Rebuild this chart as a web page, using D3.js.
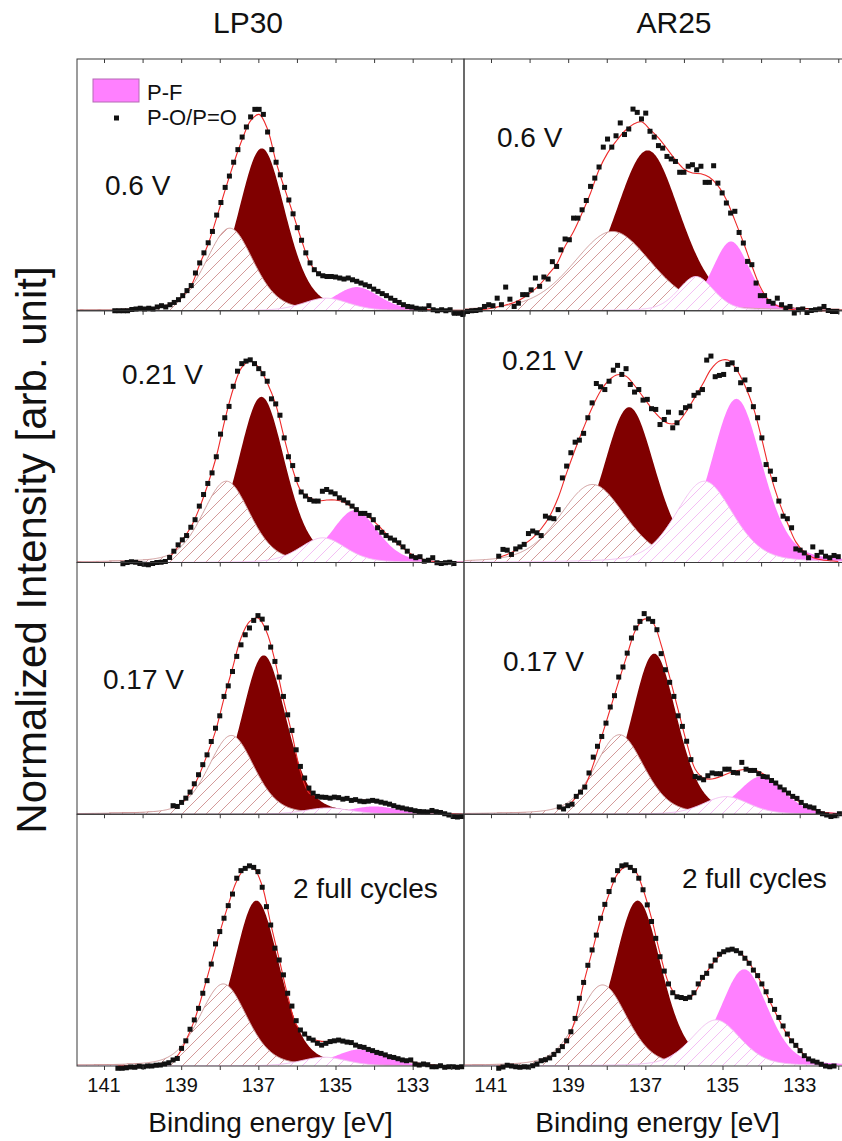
<!DOCTYPE html>
<html>
<head>
<meta charset="utf-8">
<script src="https://cdn.jsdelivr.net/npm/d3@7/dist/d3.min.js"></script>
<style>
  body { margin: 0; background: #fff; }
  text { font-family: "Liberation Sans", Arial, sans-serif; fill: #111; }
</style>
</head>
<body>
<div id="my_dataviz"></div>
<script>
// ---- data (binding energy in eV, intensity normalised 0..1) ----
var electrolytes = ["LP30", "AR25"];
var stateLabels = ["0.6 V", "0.21 V", "0.17 V", "2 full cycles"];
var xTicks = [141, 139, 137, 135, 133];
var legendKeys = ["P-F", "P-O/P=O"];

// measured points: first energy of each scan, then one value every 0.11 eV
var stepEV = 0.11;
var lp30Start = [140.72, 140.51, 139.21, 140.64];
var ar25Start = [141.72, 140.80, 139.23, 140.80];

var lp30_06V = [0.00,0.00,0.00,0.00,0.005,0.007,0.01,0.007,0.01,0.007,0.015,0.02,0.015,0.024,0.033,0.044,0.06,0.08,0.10,0.15,0.19,0.23,0.27,0.315,0.38,0.43,0.49,0.535,0.59,0.64,0.69,0.73,0.77,0.80,0.80,0.78,0.71,0.64,0.59,0.54,0.49,0.44,0.385,0.33,0.28,0.23,0.19,0.163,0.147,0.139,0.136,0.136,0.134,0.13,0.126,0.13,0.123,0.117,0.11,0.103,0.097,0.086,0.077,0.068,0.06,0.05,0.041,0.033,0.024,0.017,0.015,0.01,0.007,0.007,0.02,0.004,0.00,0.004,0.00,0.004,-0.01,-0.01,-0.015];
var lp30_021V = [-0.005,0.00,0.003,0.001,-0.004,-0.007,-0.009,-0.004,0.00,0.001,0.004,0.02,0.045,0.07,0.09,0.107,0.14,0.17,0.224,0.27,0.314,0.356,0.42,0.51,0.575,0.62,0.70,0.76,0.79,0.80,0.805,0.79,0.77,0.75,0.72,0.65,0.63,0.585,0.495,0.42,0.385,0.33,0.28,0.264,0.25,0.244,0.244,0.283,0.29,0.28,0.273,0.257,0.248,0.237,0.224,0.21,0.195,0.195,0.187,0.17,0.138,0.12,0.107,0.097,0.089,0.078,0.062,0.045,0.025,0.019,0.023,0.005,0.009,0.019,-0.001,-0.004,-0.001,0.001,-0.004];
var lp30_017V = [0.034,0.031,0.047,0.064,0.088,0.121,0.157,0.197,0.236,0.289,0.342,0.391,0.468,0.51,0.567,0.627,0.673,0.713,0.74,0.77,0.789,0.775,0.74,0.664,0.607,0.545,0.468,0.395,0.333,0.256,0.19,0.144,0.104,0.084,0.071,0.068,0.067,0.064,0.068,0.066,0.06,0.063,0.055,0.058,0.052,0.05,0.052,0.055,0.052,0.048,0.044,0.04,0.034,0.028,0.025,0.021,0.018,0.014,0.011,0.01,0.009,0.015,0.01,0.007,0.002,-0.003,-0.009,-0.011,-0.009];
var lp30_2cyc = [-0.009,-0.009,-0.007,-0.004,-0.005,-0.001,-0.003,0.00,0.00,0.003,0.004,0.008,0.013,0.024,0.03,0.07,0.10,0.146,0.183,0.229,0.289,0.339,0.405,0.485,0.534,0.587,0.637,0.683,0.746,0.776,0.785,0.795,0.789,0.772,0.71,0.633,0.56,0.468,0.421,0.362,0.289,0.238,0.18,0.143,0.127,0.11,0.103,0.09,0.083,0.09,0.097,0.10,0.103,0.099,0.095,0.093,0.083,0.077,0.074,0.066,0.061,0.054,0.05,0.044,0.037,0.034,0.029,0.024,0.021,0.024,0.008,0.004,0.008,0.005,-0.003,-0.003,0.001,-0.005,-0.003,-0.003,-0.005,-0.003];

var ar25_06V = [-0.009,-0.003,0.00,0.001,0.004,0.017,0.024,0.02,0.05,0.024,0.094,0.046,0.017,0.03,0.064,0.064,0.083,0.13,0.097,0.134,0.126,0.195,0.176,0.242,0.285,0.282,0.368,0.368,0.401,0.438,0.494,0.527,0.571,0.65,0.682,0.65,0.695,0.746,0.70,0.722,0.801,0.788,0.762,0.785,0.713,0.69,0.656,0.646,0.613,0.603,0.593,0.55,0.55,0.574,0.58,0.56,0.574,0.51,0.51,0.576,0.507,0.468,0.428,0.388,0.395,0.311,0.269,0.196,0.183,0.11,0.06,0.06,0.037,0.03,0.05,0.024,0.011,0.017,-0.009,0.004,0.007,-0.007,0.001,0.004,0.007,0.017,0.001,-0.003,-0.003];
var ar25_021V = [0.025,0.052,0.049,0.032,0.054,0.062,0.072,0.115,0.125,0.118,0.107,0.184,0.177,0.174,0.21,0.336,0.383,0.436,0.478,0.486,0.513,0.575,0.634,0.711,0.698,0.687,0.72,0.764,0.783,0.747,0.77,0.707,0.677,0.687,0.645,0.648,0.611,0.608,0.548,0.568,0.597,0.535,0.555,0.595,0.615,0.621,0.664,0.674,0.687,0.804,0.82,0.738,0.743,0.747,0.787,0.793,0.767,0.714,0.725,0.687,0.619,0.575,0.495,0.389,0.363,0.33,0.244,0.184,0.174,0.138,0.054,0.049,0.038,0.019,0.062,0.028,0.041,0.025,0.019,0.028,0.023];
var ar25_017V = [0.029,0.021,0.034,0.04,0.071,0.088,0.108,0.164,0.227,0.27,0.309,0.362,0.426,0.471,0.545,0.585,0.64,0.70,0.74,0.766,0.797,0.776,0.766,0.733,0.638,0.574,0.524,0.468,0.391,0.349,0.29,0.217,0.15,0.144,0.137,0.153,0.164,0.161,0.161,0.179,0.179,0.166,0.164,0.206,0.179,0.174,0.174,0.161,0.15,0.148,0.134,0.124,0.108,0.097,0.084,0.071,0.063,0.047,0.034,0.029,0.025,0.011,0.002,-0.003,-0.009,-0.006,0.002];
var ar25_2cyc = [-0.009,-0.004,0.003,0.0,-0.003,-0.005,-0.003,-0.004,0.001,0.008,0.021,0.025,0.032,0.046,0.061,0.077,0.10,0.136,0.189,0.269,0.332,0.40,0.461,0.52,0.587,0.642,0.693,0.739,0.776,0.795,0.799,0.789,0.776,0.746,0.70,0.64,0.574,0.507,0.434,0.377,0.326,0.291,0.275,0.272,0.268,0.273,0.291,0.326,0.352,0.368,0.397,0.421,0.444,0.454,0.461,0.464,0.458,0.448,0.428,0.408,0.381,0.359,0.326,0.295,0.26,0.225,0.193,0.159,0.127,0.10,0.082,0.061,0.041,0.028,0.02,0.015,0.007,0.0,-0.003,0.0];

// fitted envelope (red line), same start energy, one value every 0.22 eV
var fitStepEV = 0.22;
var lp30Fit_06V = [0.00,0.00,0.003,0.006,0.01,0.014,0.02,0.035,0.06,0.10,0.185,0.265,0.37,0.48,0.585,0.68,0.755,0.78,0.72,0.59,0.485,0.385,0.28,0.19,0.15,0.138,0.133,0.128,0.122,0.11,0.095,0.078,0.06,0.042,0.027,0.016,0.008,0.004,0.002,0.001,0.0,0.0];
var lp30Fit_021V = [0.0,0.0,0.0,0.0,0.002,0.008,0.04,0.09,0.14,0.215,0.31,0.42,0.565,0.69,0.775,0.80,0.775,0.714,0.628,0.495,0.37,0.283,0.257,0.245,0.248,0.248,0.24,0.22,0.20,0.18,0.15,0.115,0.085,0.057,0.033,0.017,0.008,0.003,0.001,0.0];
var lp30Fit_017V = [0.03,0.045,0.085,0.15,0.235,0.33,0.46,0.58,0.70,0.765,0.78,0.726,0.61,0.455,0.32,0.17,0.085,0.07,0.067,0.066,0.063,0.06,0.057,0.055,0.053,0.047,0.038,0.028,0.02,0.013,0.009,0.006,0.003,0.001,0.0];
var lp30Fit_2cyc = [0.0,0.0,0.0,0.0,0.001,0.004,0.014,0.04,0.10,0.18,0.29,0.41,0.53,0.64,0.735,0.785,0.785,0.715,0.565,0.425,0.28,0.165,0.125,0.106,0.098,0.098,0.099,0.094,0.085,0.074,0.062,0.051,0.04,0.03,0.021,0.014,0.008,0.004,0.002,0.001,0.0];
var ar25Fit_06V = [0.0,0.001,0.004,0.008,0.015,0.023,0.033,0.05,0.073,0.103,0.143,0.185,0.256,0.315,0.388,0.468,0.56,0.626,0.673,0.713,0.74,0.751,0.72,0.687,0.644,0.60,0.563,0.547,0.544,0.53,0.497,0.441,0.359,0.272,0.179,0.094,0.041,0.02,0.009,0.004,0.001,0.0,0.0,0.0,0.0];
var ar25Fit_021V = [0.02,0.032,0.049,0.072,0.098,0.134,0.184,0.257,0.356,0.449,0.535,0.615,0.681,0.725,0.746,0.74,0.703,0.658,0.613,0.575,0.552,0.555,0.595,0.65,0.707,0.767,0.80,0.804,0.767,0.703,0.615,0.489,0.35,0.244,0.158,0.082,0.041,0.02,0.011,0.007,0.004];
var ar25Fit_017V = [0.02,0.034,0.068,0.11,0.197,0.309,0.418,0.528,0.634,0.733,0.775,0.762,0.673,0.545,0.415,0.285,0.18,0.144,0.14,0.15,0.164,0.174,0.179,0.177,0.161,0.137,0.11,0.081,0.055,0.034,0.018,0.009,0.005,0.002];
var ar25Fit_2cyc = [0.0,0.0,0.0,0.0,0.004,0.019,0.034,0.061,0.098,0.183,0.328,0.454,0.58,0.683,0.763,0.792,0.779,0.702,0.587,0.448,0.331,0.278,0.268,0.286,0.348,0.397,0.437,0.458,0.456,0.432,0.384,0.326,0.252,0.185,0.123,0.082,0.044,0.017,0.007,0.001];

// fit components per panel: [P-O 2p1/2 (hatched), P-O 2p3/2 (dark red), P-F 2p1/2 (hatched), P-F 2p3/2 (magenta)]
var lp30PeakCenter = [[137.74,136.91,135.25,134.45],[137.83,136.92,135.33,134.50],[137.70,136.86,135.20,134.00],[137.91,137.05,135.30,134.37]];
var lp30PeakHeight = [[0.328,0.645,0.05,0.094],[0.323,0.658,0.098,0.208],[0.313,0.631,0.025,0.031],[0.326,0.657,0.035,0.066]];
var lp30PeakFwhm   = [[1.45,1.45,1.4,1.4],[1.45,1.45,1.4,1.4],[1.4,1.38,1.4,1.5],[1.45,1.42,1.4,1.5]];
var ar25PeakCenter = [[137.85,136.94,135.69,134.78],[138.37,137.42,135.47,134.64],[137.67,136.77,134.91,134.00],[138.11,137.20,135.17,134.44]];
var ar25PeakHeight = [[0.315,0.637,0.136,0.275],[0.31,0.617,0.323,0.65],[0.316,0.638,0.07,0.15],[0.322,0.657,0.183,0.384]];
var ar25PeakFwhm   = [[2.4,2.0,1.1,1.15],[2.0,1.6,1.75,1.58],[1.5,1.4,1.4,1.4],[1.5,1.45,1.5,1.45]];

// ---- layout ----
var width = 842, height = 1141;
var colX = [77, 464];
var panelW = 387;
var firstTop = 59;
var panelH = 251.75;

var svg = d3.select("#my_dataviz")
  .append("svg")
    .attr("width", width)
    .attr("height", height);

// hatch patterns for the two 2p1/2 components
var defs = svg.append("defs");
function addHatch(id, color) {
  defs.append("pattern")
      .attr("id", id)
      .attr("patternUnits", "userSpaceOnUse")
      .attr("width", 12)
      .attr("height", 12)
    .append("path")
      .attr("d", "M-3,3 L3,-3 M0,12 L12,0 M9,15 L15,9")
      .attr("stroke", color)
      .attr("stroke-width", 1);
}
addHatch("hatchPO", "#d39a9a");
addHatch("hatchPF", "#f4bff4");

// Gaussian-Lorentzian (GL30) line shape used by the fit
function glPeak(e, c, h, w) {
  var t = (e - c) / w;
  return h * (0.7 * Math.exp(-4 * Math.LN2 * t * t) + 0.3 / (1 + 4 * t * t));
}

var dataSets = [
  [lp30_06V, lp30_021V, lp30_017V, lp30_2cyc],
  [ar25_06V, ar25_021V, ar25_017V, ar25_2cyc]
];
var fitSets = [
  [lp30Fit_06V, lp30Fit_021V, lp30Fit_017V, lp30Fit_2cyc],
  [ar25Fit_06V, ar25Fit_021V, ar25Fit_017V, ar25Fit_2cyc]
];
var starts = [lp30Start, ar25Start];
var centers = [lp30PeakCenter, ar25PeakCenter];
var heights = [lp30PeakHeight, ar25PeakHeight];
var fwhms = [lp30PeakFwhm, ar25PeakFwhm];

var labelPos = [
  [[105, 195], [122, 384], [103, 689], [293, 898]],
  [[497, 147], [502, 370], [503, 671], [682, 888]]
];

var styles = [
  {fill: "url(#hatchPO)", stroke: "#cf9c9c"},
  {fill: "#800000", stroke: "none"},
  {fill: "url(#hatchPF)", stroke: "#f2c0f2"},
  {fill: "#ff80ff", stroke: "none"}
];

var modelE = d3.range(141.8, 131.5, -0.02);

function drawPanel(c, r) {
  var x = d3.scaleLinear()
    .domain([141.7, 131.67])
    .range([colX[c], colX[c] + panelW]);
  var panelTop = firstTop + r * panelH;
  var y = d3.scaleLinear()
    .domain([0, 1])
    .range([panelTop + panelH, panelTop]);

  var clipId = "clip-" + c + "-" + r;
  defs.append("clipPath").attr("id", clipId)
    .append("rect")
      .attr("x", colX[c]).attr("y", panelTop)
      .attr("width", panelW).attr("height", panelH);

  var g = svg.append("g");
  var fills = g.append("g").attr("clip-path", "url(#" + clipId + ")");

  var cen = centers[c][r], hgt = heights[c][r], fw = fwhms[c][r];
  // dark red and magenta first, hatched components on top (opaque white)
  [1, 3, 0, 2].forEach(function(k) {
    var area = d3.area()
      .x(function(e) { return x(e); })
      .y0(y(0))
      .y1(function(e) { return y(glPeak(e, cen[k], hgt[k], fw[k])); });
    if (k === 0 || k === 2) {
      fills.append("path").datum(modelE).attr("d", area).attr("fill", "#fff");
    }
    fills.append("path")
      .datum(modelE)
      .attr("d", area)
      .attr("fill", styles[k].fill);
    if (styles[k].stroke !== "none") {
      var line = d3.line()
        .x(function(e) { return x(e); })
        .y(function(e) { return y(glPeak(e, cen[k], hgt[k], fw[k])); });
      fills.append("path").datum(modelE).attr("d", line)
        .attr("fill", "none").attr("stroke", styles[k].stroke).attr("stroke-width", 1);
    }
  });

  // frame
  g.append("rect")
    .attr("x", colX[c]).attr("y", panelTop)
    .attr("width", panelW).attr("height", panelH)
    .attr("fill", "none").attr("stroke", "#3a3a3a").attr("stroke-width", 1);

  // inward ticks along the top edge
  g.append("g")
    .attr("transform", "translate(0," + panelTop + ")")
    .call(d3.axisBottom(x).tickValues(d3.range(141, 131, -1)).tickSize(4).tickFormat(""))
    .call(function(a) { a.select(".domain").remove(); a.selectAll("line").attr("stroke", "#3a3a3a"); });

  // fitted envelope
  var st = starts[c][r];
  var envelope = d3.line()
    .curve(d3.curveCatmullRom)
    .x(function(d, i) { return x(st - i * fitStepEV); })
    .y(function(d) { return y(d); });
  g.append("path")
    .datum(fitSets[c][r])
    .attr("d", envelope)
    .attr("fill", "none")
    .attr("stroke", "#ee2a2a")
    .attr("stroke-width", 1.1);

  // measured points
  var size = 5;
  g.append("g")
    .selectAll("rect")
    .data(dataSets[c][r])
    .enter()
    .append("rect")
      .attr("x", function(d, i) { return x(st - i * stepEV) - size / 2; })
      .attr("y", function(d) { return y(d) - size / 2; })
      .attr("width", size)
      .attr("height", size)
      .attr("fill", "#111");

  g.append("text")
    .attr("x", labelPos[c][r][0])
    .attr("y", labelPos[c][r][1])
    .style("font-size", "28px")
    .text(stateLabels[r]);

  return x;
}

for (var c = 0; c < 2; c++) {
  var x;
  for (var r = 0; r < 4; r++) x = drawPanel(c, r);

  // bottom axis with labels
  var bottom = firstTop + 4 * panelH;
  svg.append("g")
    .attr("transform", "translate(0," + bottom + ")")
    .call(d3.axisBottom(x).tickValues(d3.range(141, 131, -1)).tickSize(4).tickFormat(""))
    .call(function(a) { a.select(".domain").remove(); a.selectAll("line").attr("stroke", "#3a3a3a"); });
  svg.append("g")
    .selectAll("text")
    .data(xTicks)
    .enter()
    .append("text")
      .attr("x", function(d) { return x(d); })
      .attr("y", bottom + 26)
      .attr("text-anchor", "middle")
      .style("font-size", "20px")
      .text(function(d) { return d; });

  svg.append("text")
    .attr("x", colX[c] + panelW / 2)
    .attr("y", 1132)
    .attr("text-anchor", "middle")
    .style("font-size", "28px")
    .text("Binding energy [eV]");
}

// column titles
svg.append("text").attr("x", 248).attr("y", 33).attr("text-anchor", "middle")
  .style("font-size", "30px").text(electrolytes[0]);
svg.append("text").attr("x", 674).attr("y", 33).attr("text-anchor", "middle")
  .style("font-size", "30px").text(electrolytes[1]);

// y title
svg.append("text")
  .attr("transform", "translate(46,550) rotate(-90)")
  .attr("text-anchor", "middle")
  .style("font-size", "42px")
  .text("Normalized Intensity [arb. unit]");

// legend
svg.append("rect")
  .attr("x", 93).attr("y", 79).attr("width", 46).attr("height", 23)
  .attr("fill", "#ff80ff").attr("stroke", "#b46ab4").attr("stroke-width", 1);
svg.append("rect")
  .attr("x", 114).attr("y", 115.5).attr("width", 5).attr("height", 5)
  .attr("fill", "#111");
svg.append("text").attr("x", 147).attr("y", 100).style("font-size", "22px").text(legendKeys[0]);
svg.append("text").attr("x", 147).attr("y", 125).style("font-size", "22px").text(legendKeys[1]);
</script>
</body>
</html>
